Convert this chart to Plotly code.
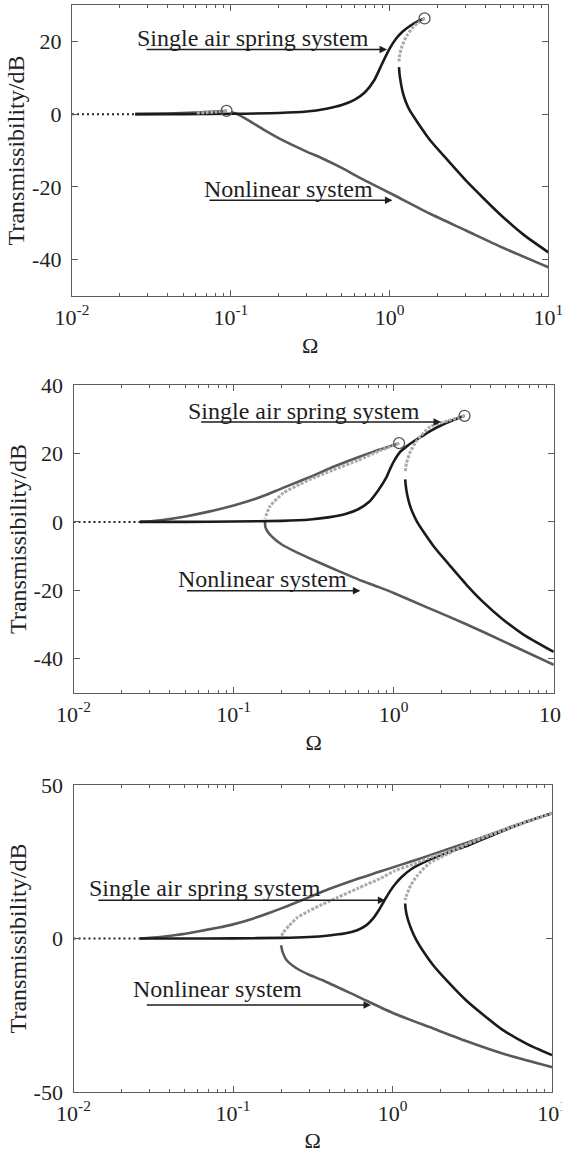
import plotly.graph_objects as go

# ---------------- data ----------------
# Panel 1
p1_lin_x = [0.01, 0.025]
p1_lin_y = [0, 0]
p1_air_up_x = [0.025, 0.05, 0.1, 0.2, 0.3, 0.4, 0.5, 0.6, 0.7, 0.8, 0.9, 1.0, 1.1, 1.2, 1.35, 1.5, 1.66]
p1_air_up_y = [0, 0, 0.1, 0.3, 0.7, 1.5, 2.5, 3.9, 6.0, 9.3, 14.0, 18.0, 20.8, 22.6, 24.3, 25.5, 26.3]
p1_air_un_x = [1.66, 1.5, 1.38, 1.28, 1.2, 1.16, 1.146]
p1_air_un_y = [26.3, 25.0, 23.5, 21.5, 18.8, 16.5, 14.5]
p1_air_lo_x = [1.146, 1.155, 1.175, 1.21, 1.27, 1.34, 1.5, 1.8, 2.29, 3.03, 4.0, 5.09, 7.0, 10]
p1_air_lo_y = [12.9, 11.0, 8.8, 6.0, 3.2, 1.0, -2.3, -7.2, -12.4, -18.3, -23.6, -28.0, -33.2, -38.0]
p1_nl_up_x = [0.025, 0.04, 0.06, 0.08, 0.094]
p1_nl_up_y = [0, 0.15, 0.4, 0.7, 0.9]
p1_nl_un_x = [0.094, 0.08, 0.06]
p1_nl_un_y = [0.9, 0.55, 0.3]
p1_nl_lo_x = [0.1, 0.11, 0.13, 0.16, 0.21, 0.3, 0.378, 0.5, 0.637, 0.8, 1.07, 1.8, 3.03, 5.09, 10]
p1_nl_lo_y = [0.6, 0.0, -1.8, -4.2, -7.1, -10.3, -12.2, -14.8, -17.3, -19.5, -22.3, -27.4, -32.0, -36.6, -42.1]
p1_jump_x = [0.094, 1.66]
p1_jump_y = [0.9, 26.3]

# Panel 2
p2_lin_x = [0.01, 0.026]
p2_lin_y = [0, 0]
p2_air_up_x = [0.026, 0.05, 0.1, 0.2, 0.3, 0.4, 0.5, 0.6, 0.7, 0.8, 0.9, 0.95, 1.0, 1.1, 1.2, 1.35, 1.5, 1.7, 2.0, 2.4, 2.77]
p2_air_up_y = [0, 0, 0.1, 0.3, 0.7, 1.4, 2.3, 3.7, 5.8, 9.2, 13.0, 15.5, 17.6, 20.5, 22.0, 23.7, 25.0, 26.6, 28.3, 29.9, 31.0]
p2_air_un_x = [2.77, 2.2, 1.69, 1.4, 1.27, 1.2, 1.18]
p2_air_un_y = [31.0, 29.6, 27.8, 23.8, 20.5, 17.0, 14.4]
p2_air_lo_x = [1.18, 1.19, 1.21, 1.25, 1.31, 1.4, 1.55, 1.8, 2.2, 2.84, 3.6, 4.75, 6.5, 10]
p2_air_lo_y = [12.4, 10.5, 8.3, 5.5, 2.8, 0.0, -3.2, -7.5, -12.3, -18.3, -23.3, -28.3, -33.0, -38.0]
p2_nl_up_x = [0.026, 0.035, 0.05, 0.07, 0.1, 0.15, 0.2, 0.3, 0.42, 0.6, 0.8, 1.08]
p2_nl_up_y = [0, 0.5, 1.6, 3.0, 4.8, 7.4, 9.8, 13.1, 16.1, 18.9, 21.0, 23.0]
p2_nl_un_x = [1.08, 0.8, 0.6, 0.42, 0.3, 0.26, 0.205, 0.169, 0.157]
p2_nl_un_y = [23.0, 20.6, 18.0, 15.2, 12.4, 11.0, 8.5, 4.6, 1.0]
p2_nl_lo_x = [0.157, 0.158, 0.165, 0.18, 0.2, 0.25, 0.32, 0.45, 0.6, 0.8, 1.0, 1.6, 2.84, 5.0, 10]
p2_nl_lo_y = [0, -1.5, -3.2, -5.0, -6.6, -9.0, -11.3, -14.3, -16.8, -19.0, -20.8, -24.9, -29.9, -35.2, -41.8]
p2_jump_x = [1.08, 2.77]
p2_jump_y = [23.0, 31.0]

# Panel 3
p3_lin_x = [0.01, 0.026]
p3_lin_y = [0, 0]
p3_air_up_x = [0.026, 0.05, 0.1, 0.2, 0.3, 0.4, 0.5, 0.6, 0.68, 0.75, 0.82, 0.9, 0.97, 1.05, 1.15, 1.33, 1.7, 2.2, 3.0, 4.5, 6.5, 10]
p3_air_up_y = [0, 0, 0.05, 0.2, 0.5, 1.0, 1.6, 2.7, 4.2, 6.3, 9.2, 12.8, 15.6, 18.0, 20.2, 22.8, 25.6, 27.9, 30.4, 34.2, 37.5, 40.8]
p3_air_un_x = [10, 6, 4, 3, 2.19, 1.7, 1.42, 1.3, 1.23, 1.2]
p3_air_un_y = [40.8, 36.8, 33.6, 31.0, 27.4, 24.5, 20.3, 17.3, 14.3, 12.5]
p3_air_lo_x = [1.2, 1.21, 1.23, 1.27, 1.33, 1.42, 1.55, 1.8, 2.2, 2.89, 3.8, 4.85, 7.0, 10]
p3_air_lo_y = [11.4, 9.5, 7.5, 5.0, 2.3, -0.8, -4.0, -8.7, -13.8, -20.1, -25.3, -29.6, -34.4, -38.0]
p3_nl_up_x = [0.026, 0.035, 0.045, 0.06, 0.08, 0.1, 0.13, 0.17, 0.22, 0.28, 0.4, 0.6, 0.835, 1.11, 1.5, 2.19, 3.5, 5.5, 10]
p3_nl_up_y = [0, 0.5, 1.2, 2.3, 3.5, 4.6, 6.3, 8.4, 10.6, 12.8, 16.1, 19.4, 21.8, 23.9, 26.1, 29.0, 32.6, 36.3, 40.8]
p3_nl_un_x = [10, 6, 4, 2.5, 1.7, 1.35, 1.03, 0.835, 0.61, 0.45, 0.365, 0.3, 0.253, 0.225, 0.207, 0.2]
p3_nl_un_y = [40.8, 37.0, 33.5, 29.3, 26.3, 24.2, 22.0, 19.5, 16.4, 13.3, 11.2, 9.0, 6.8, 4.2, 2.0, 0.5]
p3_nl_lo_x = [0.2, 0.205, 0.217, 0.25, 0.3, 0.365, 0.61, 1.03, 1.8, 2.89, 5.0, 10]
p3_nl_lo_y = [-2.2, -4.5, -7.1, -9.7, -11.8, -13.6, -19.0, -24.5, -29.3, -33.4, -37.6, -41.9]

# tick labels
x_tickvals = [0.01, 0.1, 1, 10]
x_ticktext = ["10<sup>-2</sup>", "10<sup>-1</sup>", "10<sup>0</sup>", "10<sup>1</sup>"]
p1_y_tickvals = [-40, -20, 0, 20]
p1_y_ticktext = ["-40", "-20", "0", "20"]
p2_y_tickvals = [-40, -20, 0, 20, 40]
p2_y_ticktext = ["-40", "-20", "0", "20", "40"]
p3_y_tickvals = [-50, 0, 50]
p3_y_ticktext = ["-50", "0", "50"]
label_air = "Single air spring system"
label_nl = "Nonlinear system"
x_title = "Ω"
y_title = "Transmissibility/dB"

# ---------------- styles ----------------
FONT = "Liberation Serif, Times New Roman, DejaVu Serif, serif"
BLACK = dict(color="#1b1b1b", width=2.6)
GRAY = dict(color="#595959", width=2.6)
UNST = dict(color="#a9a9a9", width=3, dash="3px,1.5px")
LIN = dict(color="#222222", width=2, dash="2px,3px")
FRAME = "#5c5c5c"

fig = go.Figure()


def line(ax, x, y, style):
    xa, ya = ax
    fig.add_trace(go.Scatter(x=x, y=y, mode="lines", line=dict(**style, shape="spline", smoothing=0.6),
                             xaxis=xa, yaxis=ya, hoverinfo="skip"))


def circles(ax, x, y):
    xa, ya = ax
    fig.add_trace(go.Scatter(x=x, y=y, mode="markers", xaxis=xa, yaxis=ya, hoverinfo="skip",
                             marker=dict(symbol="circle-open", size=11, color="#555555",
                                         line=dict(width=1.3, color="#555555"))))


panels = [
    (("x", "y"), p1_lin_x, p1_lin_y, p1_nl_up_x, p1_nl_up_y, p1_nl_lo_x, p1_nl_lo_y,
     p1_air_up_x, p1_air_up_y, p1_air_lo_x, p1_air_lo_y, p1_nl_un_x, p1_nl_un_y,
     p1_air_un_x, p1_air_un_y, p1_jump_x, p1_jump_y),
    (("x2", "y2"), p2_lin_x, p2_lin_y, p2_nl_up_x, p2_nl_up_y, p2_nl_lo_x, p2_nl_lo_y,
     p2_air_up_x, p2_air_up_y, p2_air_lo_x, p2_air_lo_y, p2_nl_un_x, p2_nl_un_y,
     p2_air_un_x, p2_air_un_y, p2_jump_x, p2_jump_y),
    (("x3", "y3"), p3_lin_x, p3_lin_y, p3_nl_up_x, p3_nl_up_y, p3_nl_lo_x, p3_nl_lo_y,
     p3_air_up_x, p3_air_up_y, p3_air_lo_x, p3_air_lo_y, p3_nl_un_x, p3_nl_un_y,
     p3_air_un_x, p3_air_un_y, None, None),
]

for (ax, lx, ly, nux, nuy, nlx, nly, aux, auy, alx, aly, nnx, nny, anx, any_, jx, jy) in panels:
    line(ax, lx, ly, LIN)
    line(ax, nux, nuy, GRAY)
    line(ax, nlx, nly, GRAY)
    line(ax, aux, auy, BLACK)
    line(ax, alx, aly, BLACK)
    line(ax, nnx, nny, UNST)
    line(ax, anx, any_, UNST)
    if jx is not None:
        circles(ax, jx, jy)

W, H = 562, 1153
# pixel frames of the three panels: (left, right, top, bottom)
frames = [(72, 548.4, 5, 296), (73.5, 553.8, 385, 693), (73.5, 552, 785, 1092)]
yranges = [(-50, 30), (-50, 40), (-50, 50)]
yticks = [(p1_y_tickvals, p1_y_ticktext), (p2_y_tickvals, p2_y_ticktext), (p3_y_tickvals, p3_y_ticktext)]

layout = dict(width=W, height=H, margin=dict(l=0, r=0, t=0, b=0, autoexpand=False),
              paper_bgcolor="white", plot_bgcolor="white", showlegend=False,
              font=dict(family=FONT, color="#222222", size=22))

for i, ((l, r, t, b), yr, (tv, tt)) in enumerate(zip(frames, yranges, yticks)):
    sfx = "" if i == 0 else str(i + 1)
    layout["xaxis" + sfx] = dict(
        type="log", range=[-2, 1], domain=[l / W, r / W], anchor="y" + sfx, automargin=False,
        showline=True, linecolor=FRAME, linewidth=1.3, mirror="allticks",
        ticks="inside", ticklen=6, tickcolor=FRAME, tickwidth=1,
        tickmode="array", tickvals=x_tickvals, ticktext=x_ticktext,
        tickfont=dict(family=FONT, size=22, color="#222"), ticklabelstandoff=1,
        ticklabeloverflow="allow",
        minor=dict(ticks="inside", ticklen=3, dtick="D1", tickcolor=FRAME, tickwidth=1, showgrid=False),
        showgrid=False, zeroline=False,
        title=dict(text=x_title, font=dict(family=FONT, size=22, color="#222"), standoff=9),
    )
    layout["yaxis" + sfx] = dict(
        range=list(yr), domain=[1 - b / H, 1 - t / H], anchor="x" + sfx, automargin=False,
        showline=True, linecolor=FRAME, linewidth=1.3, mirror="ticks",
        ticks="inside", ticklen=6, tickcolor=FRAME, tickwidth=1,
        tickmode="array", tickvals=tv, ticktext=tt,
        tickfont=dict(family=FONT, size=22, color="#222"), ticklabelstandoff=5,
        showgrid=False, zeroline=False,
        title=dict(text=y_title, font=dict(family=FONT, size=24, color="#222"), standoff=0),
    )

fig.update_layout(**layout)

# labels and arrows (x in log10 units for log axes)
notes = [
    # (xref, yref, text_x, text_y, text, tail_x, head_x, arrow_y)
    ("x", "y", -0.863, 20.8, label_air, -1.54, -0.016, 17.8),
    ("x", "y", -0.637, -20.7, label_nl, -1.144, 0.018, -23.7),
    ("x2", "y2", -0.559, 32.4, label_air, -1.212, 0.296, 29.2),
    ("x2", "y2", -0.822, -16.7, label_nl, -1.301, -0.208, -20.1),
    ("x3", "y3", -1.174, 16.3, label_air, -1.854, -0.045, 12.5),
    ("x3", "y3", -1.097, -16.6, label_nl, -1.55, -0.135, -21.7),
]
for xr, yr_, tx, ty, txt, x0, x1, ay in notes:
    fig.add_annotation(x=tx, y=ty, xref=xr, yref=yr_, text=txt, showarrow=False,
                       font=dict(family=FONT, size=24, color="#1e1e1e"))
    fig.add_annotation(x=x1, y=ay, xref=xr, yref=yr_, ax=x0, ay=ay, axref=xr, ayref=yr_,
                       text="", showarrow=True, arrowhead=2, arrowsize=1, arrowwidth=1.5,
                       arrowcolor="#1e1e1e")

fig.write_html("out.html")
